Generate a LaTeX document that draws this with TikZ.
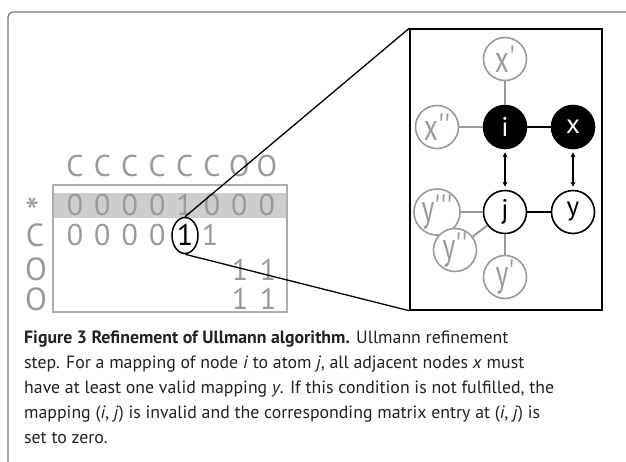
\documentclass[tikz,border=0pt]{standalone}
\usepackage{fontspec}
\setmainfont{PT Sans}
\newfontfamily\atomfont{PT Sans}
\usetikzlibrary{arrows.meta,shapes.geometric}

\definecolor{framegray}{HTML}{7A7A7A}
\definecolor{matgray}{HTML}{9A9A9A}
\definecolor{rowshade}{HTML}{CDCDCF}
\definecolor{captext}{HTML}{222222}

\newcommand{\tall}[1]{\scalebox{0.72}[1]{#1}}

\tikzset{
  matfont/.style={font=\fontsize{30}{30}\selectfont, text=matgray, inner sep=0pt, anchor=base},
  labfont/.style={font=\fontsize{32}{32}\selectfont, text=matgray, inner sep=0pt, anchor=base,
    text height=23pt, text depth=0pt},
  atom/.style={circle, minimum size=43pt, inner sep=0pt, line width=1.6pt,
    font=\atomfont\fontsize{27}{27}\selectfont},
  blackatom/.style={atom, fill=black, draw=black, text=white},
  openatom/.style={atom, draw=black, fill=white, text=black},
  grayatom/.style={atom, draw=matgray, fill=white, text=matgray,
    font=\atomfont\fontsize{38}{38}\selectfont},
  bond/.style={line width=2pt},
  graybond/.style={line width=2pt, draw=matgray},
  maparrow/.style={line width=1.2pt, {Stealth[length=5pt,width=5pt]}-{Stealth[length=5pt,width=5pt]},
    shorten >=3pt, shorten <=3pt}
}

\begin{document}
\begin{tikzpicture}[x=1pt,y=-1pt,node distance=68pt]
	\useasboundingbox (0,0) rectangle (626,461);
	\draw[framegray, line width=1.2pt, rounded corners=5pt] (8,462) -- (8,12) -- (627,12);

	% matrix
	\fill[rowshade] (53,193) rectangle (287,218);
	\draw[draw=matgray!80, line width=2.5pt] (53,185) rectangle (287,312);
	\foreach \lab [count=\k from 0] in {C,C,C,C,C,C,O,O}
		\node[matfont] (h\k) at (75+27.4*\k,176) {\lab};
	\foreach \d [count=\k from 0] in {0,0,0,0,1,0,0,0}
		\node[matfont] (ra\k) at (75+27.4*\k,215) {\d};
	\foreach \d [count=\k from 0] in {0,0,0,0}
		\node[matfont] (rb\k) at (75+27.4*\k,245) {\d};
	\node[matfont, text=black] (one) at (185,245) {1};
	\node[matfont] (rb5) at (210,245) {1};
	\node[matfont] (rc6) at (240,280) {1};
	\node[matfont] (rc7) at (268,280) {1};
	\node[matfont] (rd6) at (240,309) {1};
	\node[matfont] (rd7) at (268,309) {1};

	\node[labfont, font=\fontsize{40}{40}\selectfont, text height=14pt] (star) at (33,210) {\raisebox{-16pt}{*}};
	\node[labfont] (lc) at (35,246) {C};
	\node[labfont] (lo1) at (36,280) {O};
	\node[labfont] (lo2) at (36,310) {O};

	\node[ellipse, draw, line width=1.5pt, minimum width=26pt, minimum height=36pt, inner sep=0pt]
		(ring) at (185,235.5) {};

	% zoomed view
	\node[draw, line width=1.5pt, minimum width=192pt, minimum height=281pt, inner sep=0pt]
		(box) at (506,169.5) {};
	\draw[line width=1.3pt] (ring.north) -- (box.north west);
	\draw[line width=1.3pt] (ring.south) -- (box.south west);

	\node[blackatom]	(i)	at (505,127)	{i};
	\node[blackatom]	(x)	[right of = i]	{x};
	\node[grayatom]		(x1)	[above of = i]	{\tall{x'}};
	\node[grayatom]		(x2)	[left of = i]	{\tall{x''}};
	\node[openatom]		(j)	at (505,212)	{j};
	\node[openatom]		(y)	[right of = j]	{y};
	\node[grayatom]		(y3)	[left of = j]	{\tall{y'''}};
	\node[grayatom]		(y2)	at (455,250)	{\tall{y''}};
	\node[grayatom]		(y1)	at (505,277)	{\tall{y'}};

	\draw[graybond] (x1) -- (i);
	\draw[graybond] (x2) -- (i);
	\draw[bond] (i) -- (x);
	\draw[bond] (j) -- (y);
	\draw[graybond] (y3) -- (j);
	\draw[graybond] (y2) -- (j);
	\draw[graybond] (y1) -- (j);
	\draw[maparrow] (i) -- (j);
	\draw[maparrow] (x) -- (y);

	% caption
	\node[anchor=base west, align=left, inner sep=0pt, text=captext,
		font=\fontsize{17.8}{24.8}\selectfont] (caption) at (24,443)
		{\textbf{Figure 3 Refinement of Ullmann algorithm.} Ullmann refinement\\
		step. For a mapping of node \textit{i} to atom \textit{j}, all adjacent nodes \textit{x} must\\
		have at least one valid mapping \textit{y}. If this condition is not fulfilled, the\\
		mapping (\textit{i}, \textit{j}) is invalid and the corresponding matrix entry at (\textit{i}, \textit{j}) is\\
		set to zero.};
\end{tikzpicture}
\end{document}
